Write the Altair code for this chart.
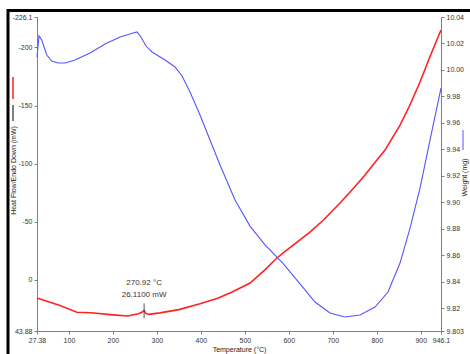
import altair as alt
import pandas as pd

# Heat flow (red, left axis, reversed)
red_T = [27.38, 79.7, 118, 150, 200, 234, 258, 266, 270.92, 275, 281, 307, 350, 398, 437,
         470, 512, 545, 573, 596, 625.5, 648, 680, 716.5, 745, 773.3, 800, 818.8, 852.9,
         875, 898.4, 920, 946.1]
red_v = [15.5, 22.0, 27.8, 28.2, 30.0, 31.0, 29.0, 27.8, 26.11, 28.8, 29.6, 28.3, 25.5,
         20.5, 16.0, 10.5, 2.6, -8.5, -18.9, -25.8, -34.4, -41.2, -52.0, -66.2, -78.0,
         -90.2, -103.0, -111.7, -133.2, -150.0, -170.2, -191.0, -214.9]

# Weight (blue, right axis)
blue_T = [27.4, 31.9, 38.2, 49.6, 61.0, 75.1, 91.1, 113.8, 147.9, 182.0, 216.1, 245.7,
          254.8, 263.9, 275.3, 288.9, 318.5, 341.2, 357.2, 375.3, 398.1, 420.8, 443.6,
          477.7, 511.8, 545.9, 586.8, 625.5, 659.6, 693.7, 727.8, 762.0, 796.1, 825.6,
          852.9, 875.7, 898.4, 921.2, 946.1]
blue_w = [10.0098, 10.0257, 10.0226, 10.0113, 10.0068, 10.0053, 10.0053, 10.0075, 10.0128,
          10.0196, 10.0249, 10.0279, 10.0287, 10.0249, 10.0181, 10.0136, 10.0075, 10.0023,
          9.9955, 9.9834, 9.966, 9.9472, 9.9283, 9.9019, 9.8822, 9.8680, 9.8540, 9.8385,
          9.8249, 9.8166, 9.8136, 9.8151, 9.8211, 9.8324, 9.8543, 9.8807, 9.9109, 9.9472,
          9.9864]

x_ticks = [27.38, 100, 200, 300, 400, 500, 600, 700, 800, 900, 946.1]
left_ticks = [-226.1, -200, -150, -100, -50, 0, 43.88]
right_ticks = [10.04, 10.02, 10.00, 9.98, 9.96, 9.94, 9.92, 9.90, 9.88, 9.86, 9.84, 9.82, 9.803]

peak_T = [270.92]
peak_v = [26.11]
peak_tick = [20.1, 33.0]
peak_lines = ["270.92 °C", "26.1100 mW"]

FONT = "Liberation Sans, Arial, sans-serif"
LBL = "#333333"
AX = "#808080"

red_df = pd.DataFrame({"T": red_T, "v": red_v})
blue_df = pd.DataFrame({"T": blue_T, "w": blue_w})

xscale = alt.Scale(domain=[27.38, 946.1], nice=False, zero=False)
xaxis = alt.Axis(values=x_ticks, labelExpr="'' + datum.value", title="Temperature (°C)",
                 grid=False, tickSize=3, labelPadding=2, labelFont=FONT, labelFontSize=7,
                 labelColor=LBL, domainColor=AX, tickColor=AX, titleFont=FONT,
                 titleFontSize=7, titleFontWeight="normal", titleColor="#222222",
                 titlePadding=2, labelFlush=False)

lscale = alt.Scale(domain=[-226.1, 43.88], nice=False, zero=False, reverse=True)
laxis = alt.Axis(values=left_ticks, labelExpr="'' + datum.value",
                 title="Heat Flow/Endo Down (mW)", orient="left", grid=False, tickSize=3,
                 labelPadding=2, labelFont=FONT, labelFontSize=7, labelColor=LBL,
                 domainColor=AX, tickColor=AX, titleFont=FONT, titleFontSize=7,
                 titleFontWeight="normal", titleColor="#222222", titleX=-24, titleY=153,
                 titleAngle=270, titleAlign="center", titleBaseline="middle", labelFlush=False)

rscale = alt.Scale(domain=[9.803, 10.04], nice=False, zero=False)
raxis = alt.Axis(values=right_ticks,
                 labelExpr="datum.value == 9.803 ? '9.803' : format(datum.value, '.2f')",
                 title="Weight (mg)", orient="right", grid=False, tickSize=3, labelPadding=2,
                 labelFont=FONT, labelFontSize=7, labelColor=LBL, domainColor=AX,
                 tickColor=AX, titleFont=FONT, titleFontSize=7, titleFontWeight="normal",
                 titleColor="#222222", titleX=23, titleY=160, titleAngle=270,
                 titleAlign="center", titleBaseline="middle", labelFlush=False)

red_line = alt.Chart(red_df).mark_line(color="#ff2222", strokeWidth=1.6).encode(
    x=alt.X("T:Q", scale=xscale, axis=xaxis),
    y=alt.Y("v:Q", scale=lscale, axis=laxis),
)

peak_rule = alt.Chart(pd.DataFrame({"T": peak_T, "v": [peak_tick[0]], "v2": [peak_tick[1]]})).mark_rule(
    color="#555555", strokeWidth=1).encode(
    x=alt.X("T:Q", scale=xscale), y=alt.Y("v:Q", scale=lscale), y2="v2:Q")

ann_df = pd.DataFrame({"T": peak_T * 2, "v": peak_v * 2, "t": peak_lines, "i": [0, 1]})
ann1 = alt.Chart(ann_df[ann_df.i == 0]).mark_text(
    font=FONT, fontSize=8, color="#333333", dy=-27, align="center").encode(
    x=alt.X("T:Q", scale=xscale), y=alt.Y("v:Q", scale=lscale), text="t:N")
ann2 = alt.Chart(ann_df[ann_df.i == 1]).mark_text(
    font=FONT, fontSize=8, color="#333333", dy=-15, align="center").encode(
    x=alt.X("T:Q", scale=xscale), y=alt.Y("v:Q", scale=lscale), text="t:N")

# legend swatches beside axis titles and the black frame
red_sw = alt.Chart(red_df.head(1)).mark_rule(color="#ff2222", strokeWidth=1.5).encode(
    x=alt.value(-24), y=alt.value(60), y2=alt.value(82))
blk_sw = alt.Chart(red_df.head(1)).mark_rule(color="#000000", strokeWidth=1).encode(
    x=alt.value(-24), y=alt.value(88), y2=alt.value(104))
frame_top = alt.Chart(red_df.head(1)).mark_rule(color="#000000", strokeWidth=3).encode(
    x=alt.value(-29), x2=alt.value(440), y=alt.value(-6.5))
frame_left = alt.Chart(red_df.head(1)).mark_rule(color="#000000", strokeWidth=3).encode(
    x=alt.value(-29), y=alt.value(-8), y2=alt.value(345))

left = alt.layer(red_line, peak_rule, ann1, ann2, red_sw, blk_sw, frame_top, frame_left)

blue_line = alt.Chart(blue_df).mark_line(color="#5555ff", strokeWidth=1.1).encode(
    x=alt.X("T:Q", scale=xscale),
    y=alt.Y("w:Q", scale=rscale, axis=raxis),
)
blue_sw = alt.Chart(blue_df.head(1)).mark_rule(color="#5555ff", strokeWidth=1).encode(
    x=alt.value(426), y=alt.value(113), y2=alt.value(133))
right = alt.layer(blue_line, blue_sw)

chart = alt.layer(left, right).resolve_scale(y="independent").properties(
    width=404, height=314,
    autosize=alt.AutoSizeParams(type="none"),
    padding={"left": 37, "top": 17, "right": 29, "bottom": 23},
    background="white",
).configure_view(stroke=None)

chart.save("out.html", embed_options={"renderer": "svg", "actions": False})
